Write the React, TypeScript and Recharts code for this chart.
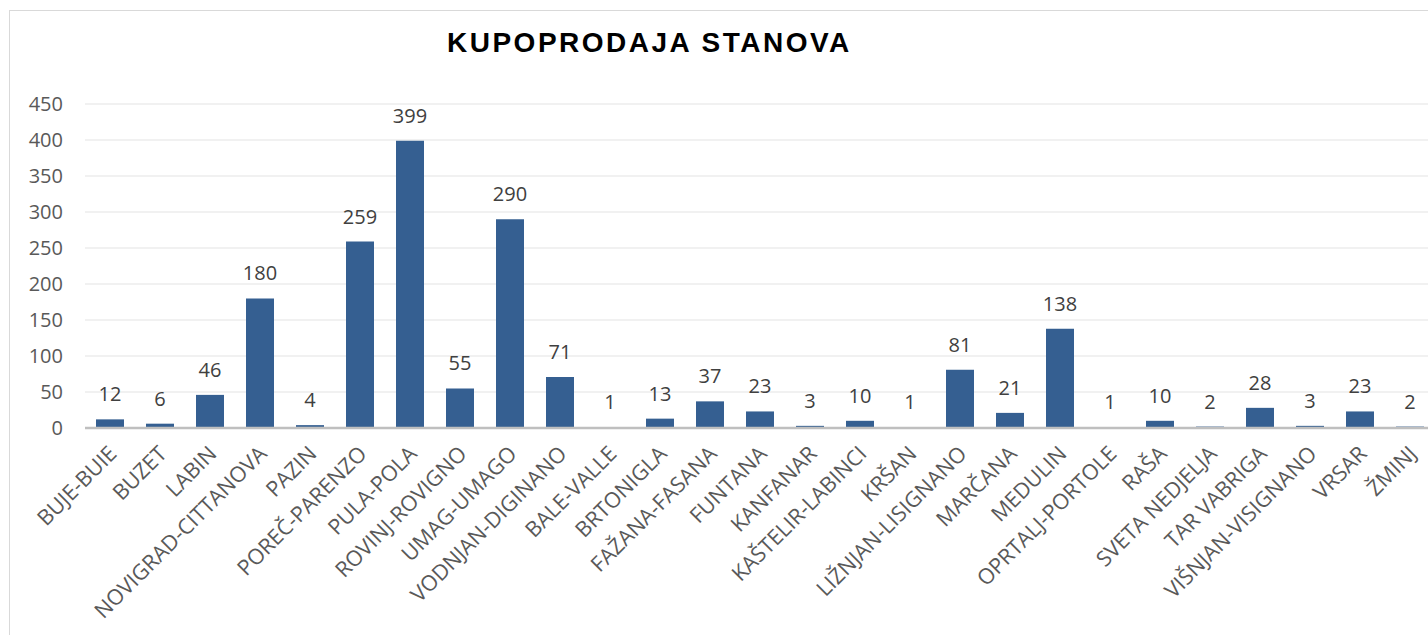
import React from 'react'
import { BarChart, Bar, XAxis, YAxis, CartesianGrid, LabelList } from 'recharts'

const towns = [
  'BUJE-BUIE', 'BUZET', 'LABIN', 'NOVIGRAD-CITTANOVA', 'PAZIN', 'POREČ-PARENZO', 'PULA-POLA',
  'ROVINJ-ROVIGNO', 'UMAG-UMAGO', 'VODNJAN-DIGINANO', 'BALE-VALLE', 'BRTONIGLA', 'FAŽANA-FASANA',
  'FUNTANA', 'KANFANAR', 'KAŠTELIR-LABINCI', 'KRŠAN', 'LIŽNJAN-LISIGNANO', 'MARČANA', 'MEDULIN',
  'OPRTALJ-PORTOLE', 'RAŠA', 'SVETA NEDJELJA', 'TAR VABRIGA', 'VIŠNJAN-VISIGNANO', 'VRSAR', 'ŽMINJ',
]
const sales = [12, 6, 46, 180, 4, 259, 399, 55, 290, 71, 1, 13, 37, 23, 3, 10, 1, 81, 21, 138, 1, 10, 2, 28, 3, 23, 2]
const yTicks = [0, 50, 100, 150, 200, 250, 300, 350, 400, 450]

const data = towns.map((name, i) => ({ name, value: sales[i] }))

const FONT = '"Open Sans", "DejaVu Sans", sans-serif'

function TownTick(props: any) {
  const { x, y, payload } = props
  return (
    <g transform={`translate(${x + 1},${y + 12})`}>
      <text
        transform="rotate(-45)"
        textAnchor="end"
        x={0}
        y={0}
        dy={10}
        fill="#595959"
        fontSize={21.5}
        fontFamily={FONT}
      >
        {payload.value}
      </text>
    </g>
  )
}

export default function App() {
  return (
    <div style={{ position: 'fixed', left: 0, top: 0, width: 1428, height: 635, overflow: 'hidden', background: '#fff' }}>
      <div
        style={{
          position: 'absolute',
          left: 9,
          top: 10,
          width: 1500,
          height: 700,
          borderLeft: '1px solid #d9d9d9',
          borderTop: '1px solid #d9d9d9',
        }}
      />
      <div
        style={{
          position: 'absolute',
          left: 447,
          top: 27,
          fontFamily: '"Liberation Sans", Arial, sans-serif',
          fontWeight: 'bold',
          fontSize: 28,
          letterSpacing: 2.5,
          color: '#000',
          whiteSpace: 'nowrap',
        }}
      >
        KUPOPRODAJA STANOVA
      </div>
      <div style={{ position: 'absolute', left: 0, top: 0 }}>
        <BarChart
          width={1450}
          height={635}
          data={data}
          margin={{ top: 104, right: 15, bottom: 0, left: 0 }}
        >
          <CartesianGrid vertical={false} stroke="#ececec" strokeWidth={1.5} />
          <XAxis
            dataKey="name"
            interval={0}
            height={207}
            tickLine={false}
            axisLine={{ stroke: '#bfbfbf', strokeWidth: 2.5 }}
            tick={<TownTick />}
          />
          <YAxis
            width={85}
            domain={[0, 450]}
            ticks={yTicks}
            axisLine={false}
            tickLine={false}
            tickMargin={16}
            tick={{ fill: '#595959', fontSize: 20, fontFamily: FONT }}
          />
          <Bar dataKey="value" fill="#355f91" barSize={28} isAnimationActive={false}>
            <LabelList
              dataKey="value"
              position="top"
              offset={18}
              fill="#404040"
              fontSize={20}
              fontFamily={FONT}
            />
          </Bar>
        </BarChart>
      </div>
    </div>
  )
}
